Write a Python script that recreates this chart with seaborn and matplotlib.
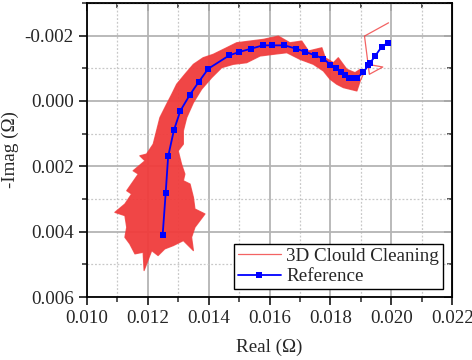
import numpy as np
import matplotlib
matplotlib.use("Agg")
import matplotlib.pyplot as plt
import seaborn as sns
from matplotlib.ticker import MultipleLocator, FormatStrFormatter

# -------------------------------
# Data
# -------------------------------
# outline of the noisy red trace (upper edge -> blob -> lower edge)
band_x = [0.01898, 0.01881, 0.01854, 0.01826, 0.01810, 0.01783, 0.01772, 0.01728,
          0.01706, 0.01667, 0.01629, 0.01580, 0.01536, 0.01492, 0.01459, 0.01415,
          0.01382, 0.01350, 0.01322, 0.01295, 0.01279, 0.01262, 0.01240, 0.01229,
          0.01218, 0.01196, 0.01174, 0.01191, 0.01152, 0.01169, 0.01131, 0.01147,
          0.01125, 0.01092, 0.01125, 0.01131, 0.01125, 0.01141, 0.01158, 0.01185,
          0.01188, 0.01213, 0.01234, 0.01256, 0.01284, 0.01317, 0.01350, 0.01344,
          0.01355, 0.01388, 0.01355, 0.01350, 0.01339, 0.01317, 0.01322, 0.01311,
          0.01300, 0.01317, 0.01317, 0.01328, 0.01350, 0.01377, 0.01410, 0.01443,
          0.01481, 0.01525, 0.01569, 0.01613, 0.01657, 0.01700, 0.01744, 0.01777,
          0.01799, 0.01821, 0.01843, 0.01887, 0.01898]
band_y = [-0.000968, -0.000864, -0.000968, -0.001322, -0.001169, -0.001322, -0.001627, -0.001527,
          -0.001832, -0.001780, -0.001984, -0.001884, -0.001832, -0.001780, -0.001627, -0.001426,
          -0.001322, -0.001120, -0.000815, -0.000510, -0.000205, 0.000101, 0.000510, 0.000916,
          0.001322, 0.001627, 0.001679, 0.001832, 0.002137, 0.002238, 0.002748, 0.002848,
          0.003154, 0.003410, 0.003511, 0.003868, 0.004173, 0.004375, 0.004680, 0.004631,
          0.005190, 0.004580, 0.004732, 0.004528, 0.004427, 0.004274, 0.004580, 0.004173,
          0.003868, 0.003459, 0.003306, 0.002952, 0.002543, 0.002442, 0.002238, 0.001933,
          0.001527, 0.001322, 0.000916, 0.000510, 0.000052, -0.000357, -0.000711, -0.001017,
          -0.001120, -0.001169, -0.001374, -0.001426, -0.001475, -0.001273, -0.001120, -0.000916,
          -0.000663, -0.000510, -0.000406, -0.000305, -0.000611]
# thin tail at the end of the red trace
spur_x = [0.01923, 0.01972, 0.01928, 0.01912, 0.01991]
spur_y = [-0.001120, -0.001038, -0.000815, -0.001984, -0.002390]

ref_x = [0.01249, 0.01259, 0.01267, 0.01286, 0.01307, 0.01338, 0.01368, 0.01399,
         0.01468, 0.01500, 0.01539, 0.01578, 0.01608, 0.01649, 0.01687, 0.01718,
         0.01748, 0.01777, 0.01799, 0.01817, 0.01834, 0.01849, 0.01860, 0.01872,
         0.01887, 0.01908, 0.01925, 0.01931, 0.01947, 0.01969, 0.01990]
ref_y = [0.004100, 0.002809, 0.001700, 0.000895, 0.000305, -0.000183, -0.000589, -0.000986,
         -0.001395, -0.001496, -0.001597, -0.001700, -0.001700, -0.001700, -0.001600, -0.001500,
         -0.001400, -0.001294, -0.001114, -0.000998, -0.000891, -0.000794, -0.000687, -0.000687,
         -0.000687, -0.000885, -0.001084, -0.001169, -0.001374, -0.001664, -0.001780]

red_color = "#f03c3c"
blue_color = "#0000ff"
fs = 13.7

# -------------------------------
# Style
# -------------------------------
sns.set_style("ticks")
plt.rcParams["font.family"] = ["Liberation Serif", "DejaVu Serif"]
plt.rcParams["axes.unicode_minus"] = False
plt.rcParams["font.size"] = fs

fig = plt.figure(figsize=(4.72, 3.6), dpi=100)
ax = fig.add_axes([0.184, 0.175, 0.774, 0.817])

# -------------------------------
# Plot
# -------------------------------
ax.fill(band_x, band_y, color=red_color, alpha=0.95, lw=0, zorder=2)
sns.lineplot(x=band_x + spur_x, y=band_y + spur_y, sort=False, estimator=None,
             color=red_color, lw=0.9, alpha=0.8, label="3D Clould Cleaning", ax=ax, zorder=3)
sns.lineplot(x=ref_x, y=ref_y, sort=False, estimator=None, color=blue_color, lw=1.3,
             marker="s", markersize=4.5, markeredgewidth=0, label="Reference", ax=ax, zorder=4)

ax.set_xlim(0.010, 0.022)
ax.set_ylim(0.006, -0.003)
ax.xaxis.set_major_locator(MultipleLocator(0.002))
ax.xaxis.set_minor_locator(MultipleLocator(0.001))
ax.yaxis.set_major_locator(MultipleLocator(0.002))
ax.yaxis.set_minor_locator(MultipleLocator(0.001))
ax.xaxis.set_major_formatter(FormatStrFormatter("%.3f"))
ax.yaxis.set_major_formatter(FormatStrFormatter("%.3f"))

ax.grid(True, which="major", color="#b4b4b4", lw=1.3, ls="-", zorder=0)
ax.grid(True, which="minor", color="#c8c8c8", lw=0.9, ls=(0, (1.5, 1.5)), zorder=0)
ax.set_axisbelow(True)

for s in ax.spines.values():
    s.set_linewidth(1.3)
    s.set_color("black")
ax.tick_params(which="major", direction="out", length=6, width=1.3, labelsize=fs)
ax.tick_params(which="minor", direction="out", length=3.5, width=1.1)

# mirrored ticks on top/right, pointing inwards
top = ax.secondary_xaxis("top")
top.xaxis.set_major_locator(MultipleLocator(0.002))
top.xaxis.set_minor_locator(MultipleLocator(0.001))
top.tick_params(which="major", direction="in", length=6, width=1.3, labeltop=False)
top.tick_params(which="minor", direction="in", length=3.5, width=1.1)
right = ax.secondary_yaxis("right")
right.yaxis.set_major_locator(MultipleLocator(0.002))
right.yaxis.set_minor_locator(MultipleLocator(0.001))
right.tick_params(which="major", direction="in", length=6, width=1.3, labelright=False)
right.tick_params(which="minor", direction="in", length=3.5, width=1.1)

ax.set_xlabel("Real (Ω)", fontsize=fs, labelpad=8)
ax.set_ylabel("-Imag (Ω)", fontsize=fs, labelpad=4)

leg = ax.legend(loc="lower right", bbox_to_anchor=(0.975, 0.027), fontsize=fs, frameon=True,
                fancybox=False, edgecolor="black", framealpha=1, borderpad=0.2,
                handlelength=2.25, handletextpad=0.3, labelspacing=0.15, borderaxespad=0)
leg.get_frame().set_linewidth(1.0)

fig.savefig("out.png", dpi=100)
